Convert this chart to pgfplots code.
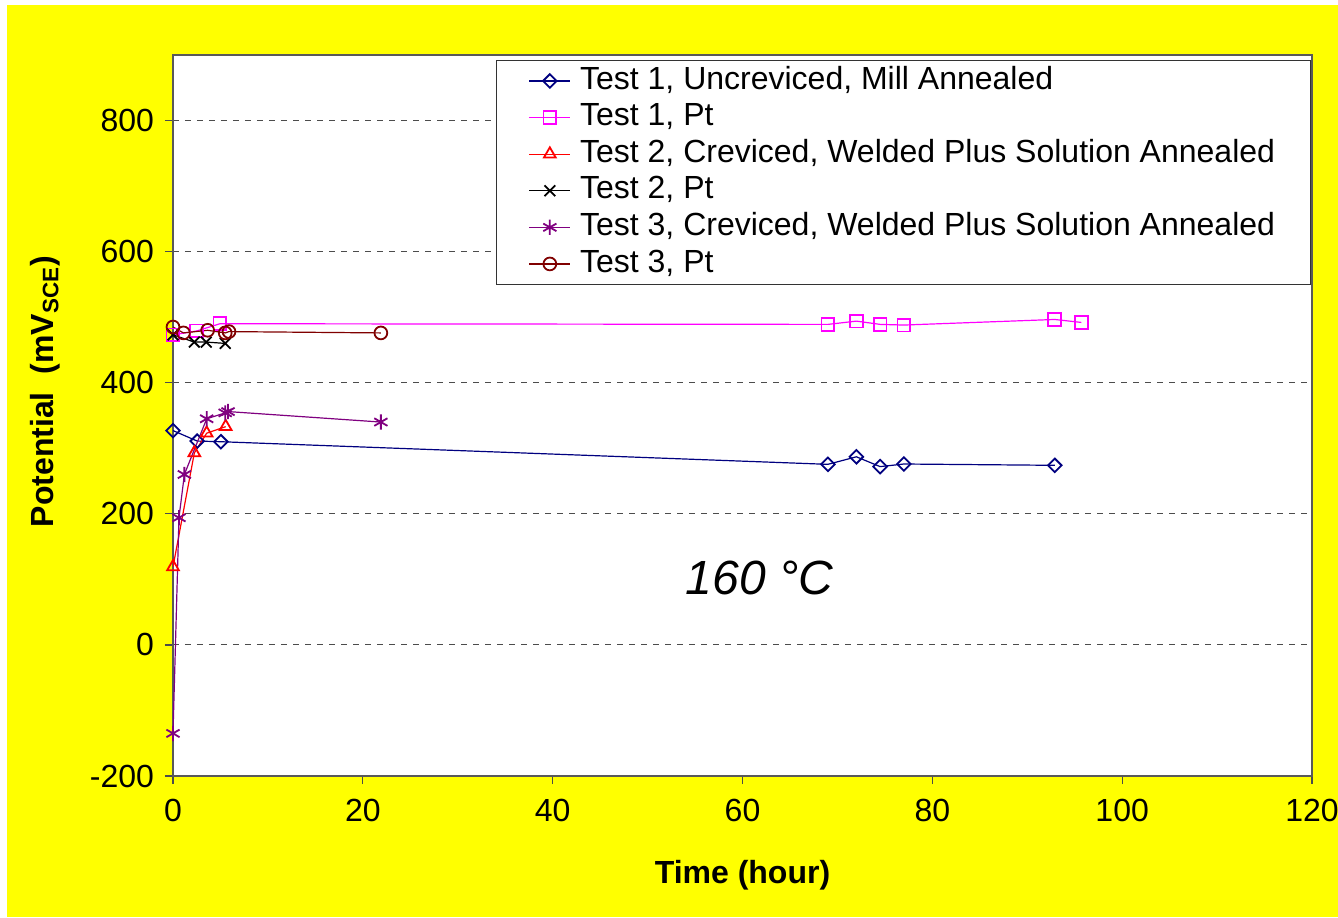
\documentclass[border=0pt]{standalone}
\usepackage{fontspec}
\setmainfont{Liberation Sans}
\usepackage{pgfplots}
\pgfplotsset{compat=1.18}
\definecolor{tnavy}{RGB}{0,0,128}
\definecolor{tmag}{RGB}{255,0,255}
\definecolor{tred}{RGB}{255,0,0}
\definecolor{tpurp}{RGB}{128,0,128}
\definecolor{tdred}{RGB}{128,0,0}
\definecolor{bgy}{RGB}{255,255,0}
\begin{document}
\begin{tikzpicture}
\fill[white] (-86.5pt,-70.5pt) rectangle (582.5pt,388pt);
\fill[bgy] (-83pt,-70.5pt) rectangle (582.5pt,385.5pt);
\begin{axis}[
  at={(0,0)}, anchor=south west,
  scale only axis,
  width=569.5pt, height=360.5pt,
  xmin=0, xmax=120, ymin=-200, ymax=900,
  xtick={0,20,...,120},
  ytick={-200,0,...,800},
  xtick pos=left, ytick pos=left,
  tick align=outside,
  major tick length=4pt,
  axis background/.style={fill=white},
  axis line style={draw=black!65, line width=0.6pt},
  every tick/.style={black!70, line width=0.6pt},
  ymajorgrids,
  grid style={dashed, black!70, line width=0.5pt},
  /pgf/number format/assume math mode=true,
  /pgf/number format/1000 sep={},
  tick label style={font=\fontsize{16}{19}\selectfont},
  xticklabel style={yshift=-4pt},
  yticklabel style={xshift=-2pt},
  xlabel={\textbf{Time (hour)}},
  ylabel={\textbf{Potential\ \ (mV\textsubscript{SCE})}},
  label style={font=\fontsize{16}{19}\selectfont},
  xlabel style={at={(axis description cs:0.5,-0.1373)}, anchor=center},
  ylabel style={at={(axis description cs:-0.1124,0.533)}, anchor=center},
  legend style={at={(rel axis cs:0.999,0.993)}, anchor=north east,
    font=\fontsize{16}{18}\selectfont, draw=black!80, line width=0.6pt,
    inner xsep=16pt, inner ysep=1pt, column sep=3pt,
    nodes={inner sep=1.6pt, text height=11.6pt, text depth=3.5pt},
    row sep=0pt},
  legend cell align=left,
  legend image code/.code={\draw[mark repeat=2,mark phase=2] plot coordinates {(0cm,0cm)(0.36cm,0cm)(0.72cm,0cm)};},
  every axis plot/.append style={line width=0.6pt},
]
\addplot[color=tnavy, mark=square, mark size=2.4pt, mark options={rotate=45, solid, line width=0.9pt}] coordinates {
(0,327) (2.55,311) (5.05,310) (69,275.5) (72,287) (74.5,272) (77,276) (92.9,274)};
\addlegendentry{Test 1, Uncreviced, Mill Annealed}
\addplot[color=tmag, mark=square, mark size=3.2pt, mark options={solid, line width=0.9pt}] coordinates {
(0,473) (2.5,479) (4.95,490) (69,489) (72,494) (74.5,489) (77,488) (92.9,496.5) (95.7,492)};
\addlegendentry{Test 1, Pt}
\addplot[color=tred, mark=triangle, mark size=3.4pt, mark options={solid, line width=0.9pt}] coordinates {
(0,119) (2.25,293) (3.55,323) (5.55,333)};
\addlegendentry{Test 2, Creviced, Welded Plus Solution Annealed}
\addplot[color=black, mark=x, mark size=3.8pt, mark options={solid, line width=0.9pt}] coordinates {
(0,473) (2.25,462) (3.5,462) (5.5,460)};
\addlegendentry{Test 2, Pt}
\addplot[color=tpurp, mark=asterisk, mark size=3.8pt, mark options={solid, line width=0.9pt}] coordinates {
(0,-135) (0.63,194) (1.2,260) (3.55,345) (5.5,354) (5.8,356) (21.9,340)};
\addlegendentry{Test 3, Creviced, Welded Plus Solution Annealed}
\addplot[color=tdred, mark=o, mark size=3.2pt, mark options={solid, line width=0.9pt}] coordinates {
(0,485) (1.1,476) (3.65,480) (5.5,476) (5.9,478) (21.9,476)};
\addlegendentry{Test 3, Pt}
\node[font=\fontsize{24}{28}\selectfont\itshape, anchor=center] at (axis cs:61.8,102) {160 °C};
\end{axis}
\pgfresetboundingbox
\path[use as bounding box] (-86.5pt,-70.5pt) rectangle (582.5pt,388pt);
\end{tikzpicture}
\end{document}
